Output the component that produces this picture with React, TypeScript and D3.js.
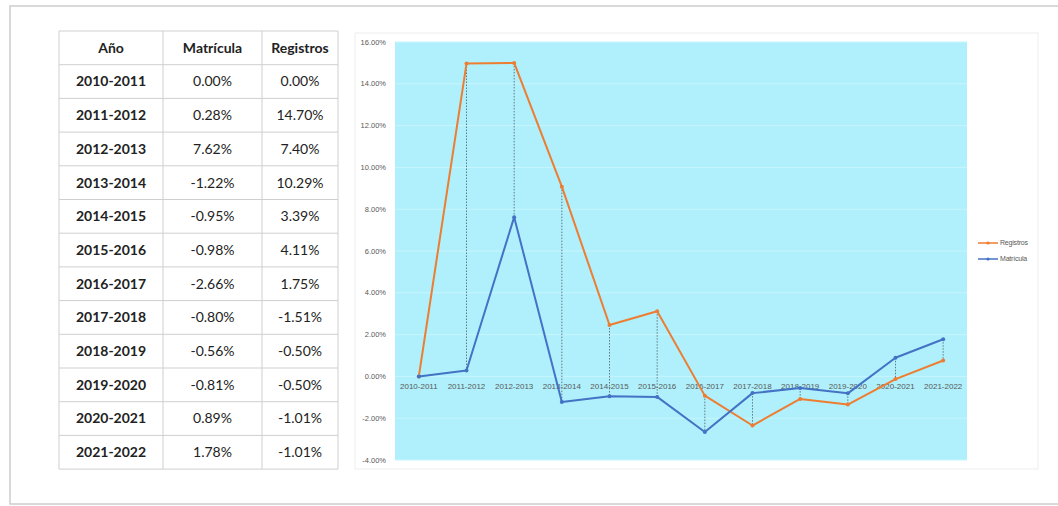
import React from 'react';
import * as d3 from 'd3';

// data
const periods = ['2010-2011', '2011-2012', '2012-2013', '2013-2014', '2014-2015', '2015-2016',
  '2016-2017', '2017-2018', '2018-2019', '2019-2020', '2020-2021', '2021-2022'];

// table values (as printed)
const tableMatricula = ['0.00%', '0.28%', '7.62%', '-1.22%', '-0.95%', '-0.98%', '-2.66%', '-0.80%', '-0.56%', '-0.81%', '0.89%', '1.78%'];
const tableRegistros = ['0.00%', '14.70%', '7.40%', '10.29%', '3.39%', '4.11%', '1.75%', '-1.51%', '-0.50%', '-0.50%', '-1.01%', '-1.01%'];

// plotted values (%)
const registros = [0, 14.97, 15.0, 9.08, 2.46, 3.12, -0.92, -2.35, -1.08, -1.35, -0.13, 0.76];
const matricula = [0, 0.28, 7.62, -1.22, -0.95, -0.98, -2.66, -0.8, -0.56, -0.81, 0.89, 1.78];

const yTicks = [-4, -2, 0, 2, 4, 6, 8, 10, 12, 14, 16];
const headers = ['Año', 'Matrícula', 'Registros'];

const W = 1058;
const H = 506;

const App = () => {
  // chart scales
  const x = d3.scaleBand().domain(periods).range([395, 967]).padding(0);
  const y = d3.scaleLinear().domain([-4, 16]).range([460, 42]);
  const cx = (p: string) => (x(p) as number) + x.bandwidth() / 2;

  const line = d3.line<number>()
    .x((_, i) => cx(periods[i]))
    .y(d => y(d));

  const fmt = (v: number) => `${v.toFixed(2)}%`;

  // table geometry
  const colX = [59, 163, 262, 338];
  const tTop = 31;
  const rowH = 33.7;
  const rows = periods.length + 1;

  const series = [
    { name: 'Registros', values: registros, color: '#ED7D31' },
    { name: 'Matrícula', values: matricula, color: '#4472C4' },
  ];

  return (
    <svg width={W} height={H} style={{ position: 'absolute', left: 0, top: 0 }}>
      <rect x={0} y={0} width={W} height={H} fill="#fff" />
      {/* page frame */}
      <rect x={10} y={6} width={W + 10} height={498} fill="none" stroke="#d0d0d0" strokeWidth={1.6} />

      {/* table */}
      <g fontFamily="Lato, 'Open Sans', sans-serif" fontSize={14} fill="#222">
        {d3.range(rows + 1).map(i => (
          <line key={'h' + i} x1={colX[0]} x2={colX[3]} y1={tTop + i * rowH} y2={tTop + i * rowH}
            stroke="#cfcfcf" strokeWidth={1} />
        ))}
        {colX.map((cxv, i) => (
          <line key={'v' + i} x1={cxv} x2={cxv} y1={tTop} y2={tTop + rows * rowH} stroke="#cfcfcf" strokeWidth={1} />
        ))}
        {headers.map((h, i) => (
          <text key={h} x={(colX[i] + colX[i + 1]) / 2} y={tTop + rowH / 2} dy="0.35em"
            textAnchor="middle" fontWeight="bold">{h}</text>
        ))}
        {periods.map((p, r) => {
          const ty = tTop + (r + 1) * rowH + rowH / 2;
          return (
            <g key={p}>
              <text x={(colX[0] + colX[1]) / 2} y={ty} dy="0.35em" textAnchor="middle" fontWeight="bold">{p}</text>
              <text x={(colX[1] + colX[2]) / 2} y={ty} dy="0.35em" textAnchor="middle">{tableMatricula[r]}</text>
              <text x={(colX[2] + colX[3]) / 2} y={ty} dy="0.35em" textAnchor="middle">{tableRegistros[r]}</text>
            </g>
          );
        })}
      </g>

      {/* chart area */}
      <rect x={355} y={33} width={683} height={436} fill="#fff" stroke="#eeeeee" strokeWidth={1} />
      <rect x={395} y={y(16)} width={572} height={y(-4) - y(16)} fill="#AFF0FC" />
      {yTicks.map(t => (
        <line key={t} x1={395} x2={967} y1={y(t)} y2={y(t)} stroke="#c6f5fd" strokeWidth={1} />
      ))}
      <g fontFamily="'Liberation Sans', Arial, sans-serif" fontSize={7.5} fill="#595959">
        {yTicks.map(t => (
          <text key={t} x={386} y={y(t)} dy="0.35em" textAnchor="end">{fmt(t)}</text>
        ))}
      </g>

      {/* high-low lines */}
      {periods.map((p, i) => {
        const hi = Math.max(registros[i], matricula[i]);
        const lo = Math.min(registros[i], matricula[i]);
        if (hi - lo < 0.05) return null;
        return (
          <line key={p} x1={cx(p)} x2={cx(p)} y1={y(hi)} y2={y(lo)}
            stroke="#5a6a75" strokeWidth={0.9} strokeDasharray="1.5,1.5" />
        );
      })}

      {/* category labels */}
      <g fontFamily="'Liberation Sans', Arial, sans-serif" fontSize={8} fill="#595959">
        {periods.map(p => (
          <text key={p} x={cx(p)} y={y(0) + 13} textAnchor="middle">{p}</text>
        ))}
      </g>

      {/* series */}
      {series.map(s => (
        <g key={s.name}>
          <path d={line(s.values) || ''} fill="none" stroke={s.color} strokeWidth={2} strokeLinejoin="round" />
          {s.values.map((v, i) => (
            <circle key={i} cx={cx(periods[i])} cy={y(v)} r={2} fill={s.color} />
          ))}
        </g>
      ))}

      {/* legend */}
      <g fontFamily="'Liberation Sans', Arial, sans-serif" fontSize={7} fill="#595959">
        {series.map((s, i) => (
          <g key={s.name} transform={`translate(978, ${243 + i * 16})`}>
            <line x1={0} x2={20} y1={0} y2={0} stroke={s.color} strokeWidth={1.5} />
            <circle cx={10} cy={0} r={1.6} fill={s.color} />
            <text x={22} y={0} dy="0.35em" letterSpacing={-0.2}>{s.name}</text>
          </g>
        ))}
      </g>
    </svg>
  );
};

export default App;
